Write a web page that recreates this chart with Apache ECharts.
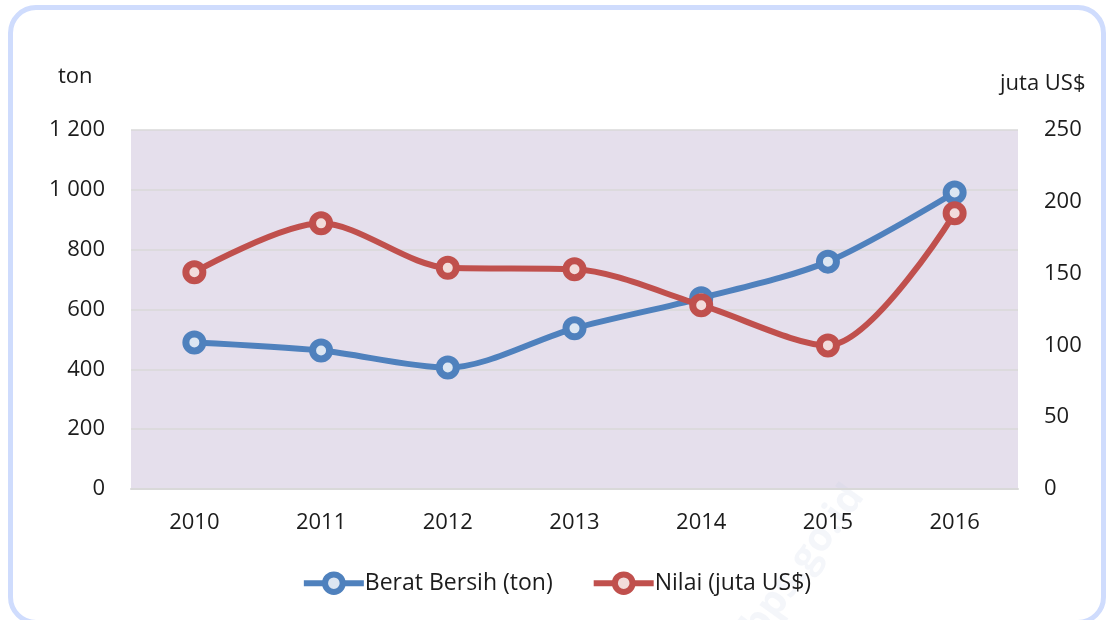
<!DOCTYPE html>
<html>
<head>
<meta charset="utf-8">
<script src="https://cdn.jsdelivr.net/npm/echarts@6/dist/echarts.min.js"></script>
<style>
  html, body { margin:0; padding:0; background:#fff; }
  #frame { position:absolute; left:8px; top:5px; width:1098px; height:620px;
           border:5px solid #CFDCFD; border-radius:28px; box-sizing:border-box; }
  #chart { position:absolute; left:0; top:0; width:1112px; height:620px; }
</style>
</head>
<body>
<div id="frame"></div>
<div id="chart"></div>
<script>
  var years = ['2010', '2011', '2012', '2013', '2014', '2015', '2016'];
  var beratBersih = [490, 463, 406, 537, 638, 760, 991];   // ton
  var nilai = [151, 185, 154, 153, 128, 100, 192];          // juta US$

  var font = '"Open Sans", "Noto Sans", sans-serif';
  var txt = '#1c1c1c';
  var blue = '#4F81BD', red = '#C0504D';

  var chart = echarts.init(document.getElementById('chart'));
  chart.setOption({
    animation: false,
    textStyle: { fontFamily: font },
    grid: {
      left: 131, right: 94, top: 130, bottom: 131,
      show: true, backgroundColor: '#E5DFEC', borderWidth: 0
    },
    graphic: [
      { type: 'text', left: 58, top: 66,
        style: { text: 'ton', font: '22px ' + font, fill: txt } },
      { type: 'text', left: 1000, top: 73,
        style: { text: 'juta US$', font: '22px ' + font, fill: txt } },
      { type: 'text', left: 735, top: 478, rotation: Math.PI * 0.3,
        style: { text: 'bps.go.id', font: 'bold 40px ' + font, fill: 'rgba(200,210,230,0.2)' } }
    ],
    legend: {
      bottom: 20, left: 'center',
      itemWidth: 60, itemHeight: 22, itemGap: 38,
      textStyle: { fontSize: 23, color: txt, fontFamily: font, padding: [0, 0, 0, -4] },
      data: [
        { name: 'Berat Bersih (ton)', lineStyle: { width: 6 }, itemStyle: { borderWidth: 6 } },
        { name: 'Nilai (juta US$)', lineStyle: { width: 6 }, itemStyle: { borderWidth: 6 } }
      ]
    },
    xAxis: {
      type: 'category',
      data: years,
      boundaryGap: true,
      axisLine: { lineStyle: { color: '#D9D9D9', width: 2 } },
      axisTick: { show: false },
      axisLabel: { fontSize: 22, color: txt, margin: 23 }
    },
    yAxis: [
      {
        type: 'value', min: 0, max: 1200, interval: 200,
        axisLine: { show: false }, axisTick: { show: false },
        splitLine: { lineStyle: { color: '#D9D9D9', width: 1.5 } },
        axisLabel: {
          fontSize: 22, color: txt, margin: 26,
          formatter: function (v) { return String(v).replace(/\B(?=(\d{3})+(?!\d))/g, ' '); }
        }
      },
      {
        type: 'value', min: 0, max: 250, interval: 50,
        axisLine: { show: false }, axisTick: { show: false },
        splitLine: { show: false },
        axisLabel: { fontSize: 22, color: txt, margin: 26 }
      }
    ],
    series: [
      {
        name: 'Berat Bersih (ton)', type: 'line', yAxisIndex: 0,
        data: beratBersih, smooth: 0.3,
        symbol: 'circle', symbolSize: 17,
        lineStyle: { color: blue, width: 6 },
        itemStyle: { color: '#DCE6F2', borderColor: blue, borderWidth: 7 },
        z: 2
      },
      {
        name: 'Nilai (juta US$)', type: 'line', yAxisIndex: 1,
        data: nilai, smooth: 0.3,
        symbol: 'circle', symbolSize: 17,
        lineStyle: { color: red, width: 6 },
        itemStyle: { color: '#F2DCDB', borderColor: red, borderWidth: 7 },
        z: 3
      }
    ]
  });
</script>
</body>
</html>
